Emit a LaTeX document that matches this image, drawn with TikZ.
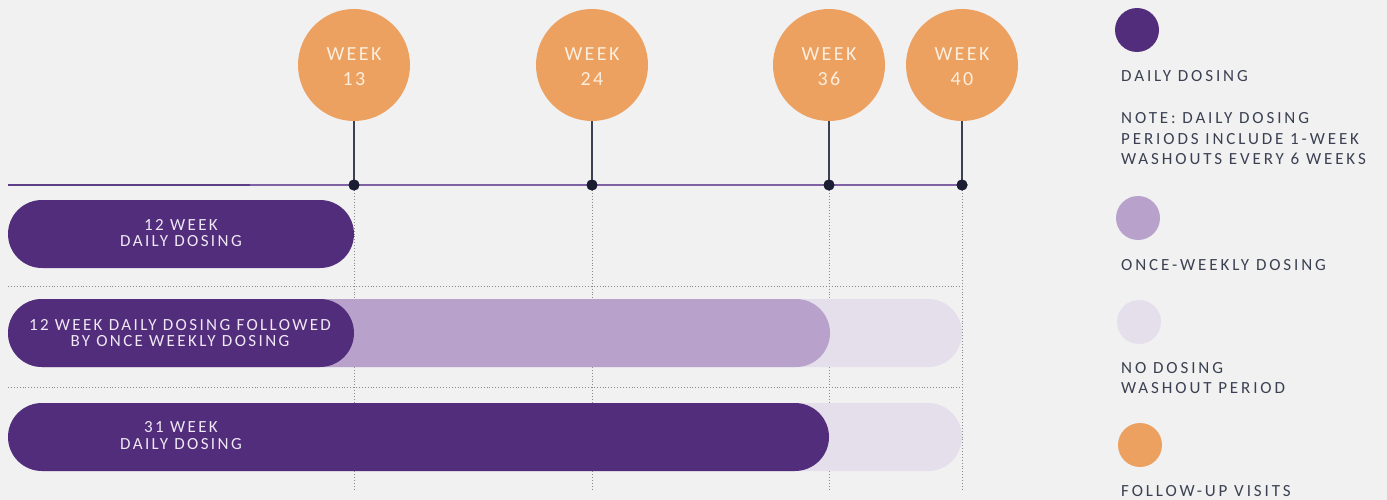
\documentclass[tikz,border=0pt]{standalone}
\usepackage{fontspec}
\setmainfont{Carlito}
\definecolor{bg}{HTML}{F1F1F1}
\definecolor{dark}{HTML}{522D7B}
\definecolor{mid}{HTML}{B8A2CC}
\definecolor{pale}{HTML}{E5DFEC}
\definecolor{orng}{HTML}{ECA160}
\definecolor{tline}{HTML}{7E62A4}
\definecolor{tlinedark}{HTML}{5E3E86}
\definecolor{navy}{HTML}{1B1D33}
\definecolor{legtxt}{HTML}{3B4152}
\definecolor{bartxt}{HTML}{EFE8F4}
\definecolor{wktxt}{HTML}{FCEEDD}
\definecolor{grid}{HTML}{8A8A8A}
\begin{document}
\begin{tikzpicture}[x=1pt,y=-1pt,
  visit/.style={circle,fill=orng,minimum size=112pt,inner sep=0pt},
  wklabel/.style={text=wktxt,align=center,inner sep=0pt,
     font=\fontsize{20}{25}\selectfont\addfontfeature{LetterSpace=12}},
  tdot/.style={circle,fill=navy,minimum size=11pt,inner sep=0pt},
  stem/.style={draw=navy!85,line width=1.4pt},
  gridline/.style={draw=grid,line width=0.9pt,dotted},
  pill/.style={rounded corners=34pt},
  bartext/.style={text=bartxt,align=center,font=\fontsize{17}{16.5}\selectfont\addfontfeature{LetterSpace=14}},
  legdot/.style={circle,minimum size=44pt,inner sep=0pt},
  legtext/.style={anchor=west,text=legtxt,align=left,inner sep=0pt,
     font=\fontsize{17}{20.5}\selectfont\addfontfeature{LetterSpace=17}},
]
\fill[bg] (0,0) rectangle (1387,500);
\useasboundingbox (0,0) rectangle (1387,500);

% grid
\foreach \x/\n in {354/a,592/b,829/c,962/d}{
  \coordinate (g\n t) at (\x,190);
  \coordinate (g\n b) at (\x,490);
  \draw[gridline] (g\n t) -- (g\n b);
}
\coordinate (h1l) at (8,286); \coordinate (h1r) at (965,286);
\coordinate (h2l) at (8,387); \coordinate (h2r) at (965,387);
\draw[gridline] (h1l) -- (h1r);
\draw[gridline] (h2l) -- (h2r);

% bars
\fill[dark,pill] (8,200) rectangle (354,268);
\node[bartext] (bar1) at (181,233) {12 WEEK\\DAILY DOSING};

\fill[pale,pill] (8,299) rectangle (962,367);
\fill[mid,pill] (8,299) rectangle (830,367);
\fill[dark,pill] (8,299) rectangle (354,367);
\node[bartext] (bar2) at (180,333) {12 WEEK DAILY DOSING FOLLOWED\\BY ONCE WEEKLY DOSING};

\fill[pale,pill] (8,403) rectangle (962,471);
\fill[dark,pill] (8,403) rectangle (829,471);
\node[bartext] (bar3) at (181,435.5) {31 WEEK\\DAILY DOSING};

% timeline
\coordinate (tstart) at (8,185);
\coordinate (tmid) at (250,185);
\node[tdot] (d1) at (354,185) {};
\node[tdot] (d2) at (592,185) {};
\node[tdot] (d3) at (829,185) {};
\node[tdot] (d4) at (962,185) {};
\draw[tlinedark,line width=1.5pt] (tstart) -- (tmid);
\draw[tline,line width=2.2pt] (tmid) -- (d1.center) -- (d2.center) -- (d3.center) -- (d4.center);

% visits
\node[visit] (v1) at (354,65) {};
\node[visit] (v2) at (592,65) {};
\node[visit] (v3) at (829,65) {};
\node[visit] (v4) at (962,65) {};
\node[wklabel] (w1) at (354,66.5) {WEEK\\13};
\node[wklabel] (w2) at (592,66.5) {WEEK\\24};
\node[wklabel] (w3) at (829,66.5) {WEEK\\36};
\node[wklabel] (w4) at (962,66.5) {WEEK\\40};
\draw[stem] (v1.south) -- (d1.center);
\draw[stem] (v2.south) -- (d2.center);
\draw[stem] (v3.south) -- (d3.center);
\draw[stem] (v4.south) -- (d4.center);
\foreach \n in {d1,d2,d3,d4}{\node[tdot] at (\n) {};}

% legend
\node[legdot,fill=dark] (l1) at (1137,30) {};
\node[legtext] (lt1) at (1121,76) {DAILY DOSING};
\node[legtext] (lt1b) at (1121,139) {NOTE:\ DAILY DOSING\\PERIODS INCLUDE 1-WEEK\\WASHOUTS EVERY 6 WEEKS};
\node[legdot,fill=mid] (l2) at (1138,218) {};
\node[legtext] (lt2) at (1121,265) {ONCE-WEEKLY DOSING};
\node[legdot,fill=pale] (l3) at (1139,322) {};
\node[legtext] (lt3) at (1121,378) {NO DOSING\\WASHOUT PERIOD};
\node[legdot,fill=orng] (l4) at (1140,445) {};
\node[legtext] (lt4) at (1121,491) {FOLLOW-UP VISITS};
\end{tikzpicture}
\end{document}
